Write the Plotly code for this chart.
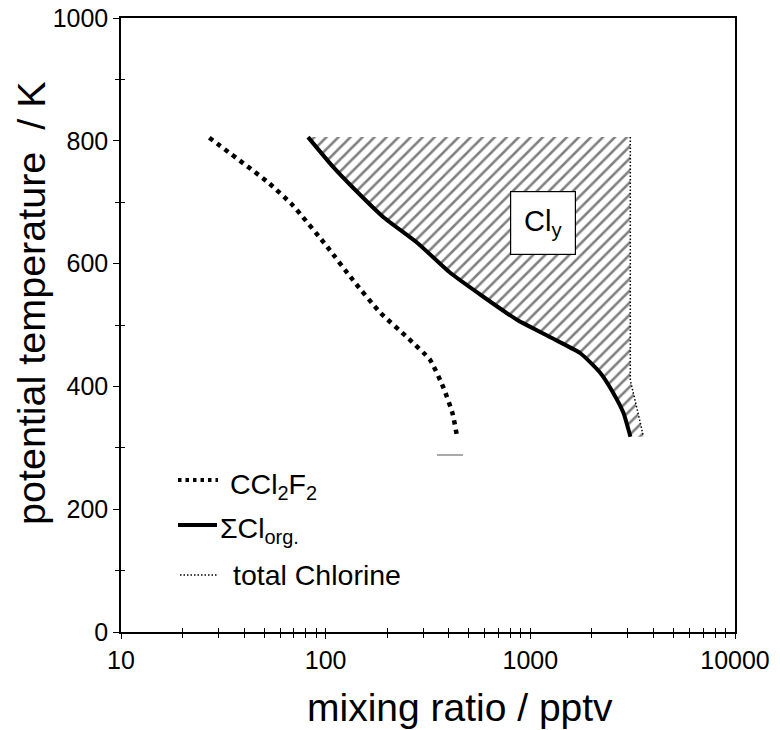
import plotly.graph_objects as go

# ---- data ----
ccl2f2_x = [27, 52, 69, 102, 136, 185, 250, 324, 375, 416, 440]
ccl2f2_t = [805, 733, 695, 627, 573, 520, 480, 443, 399, 357, 316]

clorg_x = [82, 109, 132, 191, 280, 406, 589, 864, 1253, 1756, 2199, 2546, 2850, 3083]
clorg_t = [806, 757, 728, 676, 634, 585, 546, 508, 480, 454, 422, 389, 357, 318]

cltot_x = [3080, 3080, 3336, 3570]
cltot_t = [806, 410, 361, 318]

x_tickvals = [10, 100, 1000, 10000]
x_ticktext = ["10", "100", "1000", "10000"]
x_minor = [m * d for d in (10, 100, 1000) for m in range(2, 10)]
y_tickvals = [0, 200, 400, 600, 800, 1000]
y_minor = [100, 300, 500, 700, 900]

FONT = "Liberation Sans, Arial, Helvetica, sans-serif"

fig = go.Figure()

# organic chlorine (solid)
fig.add_trace(go.Scatter(
    x=clorg_x, y=clorg_t, mode="lines",
    line=dict(color="black", width=4, shape="spline", smoothing=0.5),
    showlegend=False))
# total chlorine (thin dotted) with hatched Cl_y area to the organic curve
fig.add_trace(go.Scatter(
    x=cltot_x, y=cltot_t, mode="lines", fill="tonextx",
    fillcolor="white",
    fillpattern=dict(shape="/", size=8.5, solidity=0.3, fgcolor="black", bgcolor="white"),
    line=dict(color="black", width=1.5, dash="1.5px,2px"),
    showlegend=False))
# CCl2F2 (dotted)
fig.add_trace(go.Scatter(
    x=ccl2f2_x, y=ccl2f2_t, mode="lines",
    line=dict(color="black", width=4.5, dash="4.5px,5px", shape="spline", smoothing=0.5),
    showlegend=False))

axis_common = dict(showgrid=False, zeroline=False, linecolor="black", linewidth=1.5,
                   tickcolor="black", automargin=False, ticklabeloverflow="allow",
                   tickfont=dict(family=FONT, size=25, color="black"))

fig.update_layout(
    width=780, height=730,
    margin=dict(l=121, r=45, t=18, b=98),
    paper_bgcolor="white", plot_bgcolor="white",
    xaxis=dict(type="log", range=[1, 4], tickvals=x_tickvals, ticktext=x_ticktext,
               ticks="outside", ticklen=5, tickwidth=1.3, mirror=True,
               minor=dict(tickvals=x_minor, ticks="outside", ticklen=4, tickwidth=1.2,
                          tickcolor="black", showgrid=False),
               **axis_common),
    yaxis=dict(range=[0, 1000], tickvals=y_tickvals, ticks="outside", ticklen=6,
               tickwidth=1.3, mirror=True,
               minor=dict(tickvals=y_minor, ticks="outside", ticklen=4, tickwidth=1.2,
                          tickcolor="black", showgrid=False),
               **axis_common),
    xaxis2=dict(type="log", range=[1, 4], overlaying="x", anchor="y", side="bottom",
                tickvals=x_tickvals + x_minor, ticks="inside", ticklen=4, tickwidth=1.2,
                tickcolor="black", showticklabels=False, showgrid=False, zeroline=False,
                showline=False, automargin=False),
    yaxis2=dict(range=[0, 1000], overlaying="y", anchor="x", side="left",
                tickvals=y_minor, ticks="inside", ticklen=4, tickwidth=1.2,
                tickcolor="black", showticklabels=False, showgrid=False, zeroline=False,
                showline=False, automargin=False),
    showlegend=False,
)

# invisible traces so overlay axes are drawn
fig.add_trace(go.Scatter(x=[10], y=[None], xaxis="x2", yaxis="y", showlegend=False, hoverinfo="skip"))
fig.add_trace(go.Scatter(x=[10], y=[None], xaxis="x", yaxis="y2", showlegend=False, hoverinfo="skip"))

def px2paper_x(px):
    return (px - 121) / 614.0

def px2paper_y(py):
    return (632 - py) / 614.0

annotations = []
# axis titles
annotations.append(dict(text="mixing ratio / pptv", xref="paper", yref="paper",
                        x=px2paper_x(460), y=px2paper_y(707), xanchor="center", yanchor="middle",
                        showarrow=False, font=dict(family=FONT, size=39, color="black")))
annotations.append(dict(text="potential temperature  / K", xref="paper", yref="paper",
                        x=px2paper_x(31), y=px2paper_y(303), xanchor="center", yanchor="middle",
                        textangle=-90, showarrow=False,
                        font=dict(family=FONT, size=39.5, color="black")))
# Cl_y label box
annotations.append(dict(text="Cl<sub>y</sub>", xref="paper", yref="paper",
                        x=px2paper_x(542.5), y=px2paper_y(223), xanchor="center", yanchor="middle",
                        showarrow=False, bgcolor="white", bordercolor="black", borderwidth=1.2,
                        width=62, height=60, borderpad=1,
                        font=dict(family=FONT, size=29, color="black")))
# legend texts
leg = [("CCl<sub>2</sub>F<sub>2</sub>", 228, 486),
       ("ΣCl<sub>org.</sub>", 218, 530),
       ("total Chlorine", 231, 575)]
for txt, lx, ly in leg:
    annotations.append(dict(text=txt, xref="paper", yref="paper", x=px2paper_x(lx),
                            y=px2paper_y(ly), xanchor="left", yanchor="middle", showarrow=False,
                            font=dict(family=FONT, size=28.5, color="black")))
fig.update_layout(annotations=annotations)

shapes = [
    dict(type="line", xref="paper", yref="paper", x0=px2paper_x(178), x1=px2paper_x(218),
         y0=px2paper_y(480), y1=px2paper_y(480), line=dict(color="black", width=4, dash="3.5px,4px")),
    dict(type="line", xref="paper", yref="paper", x0=px2paper_x(178), x1=px2paper_x(217),
         y0=px2paper_y(525), y1=px2paper_y(525), line=dict(color="black", width=4)),
    dict(type="line", xref="paper", yref="paper", x0=px2paper_x(180), x1=px2paper_x(217),
         y0=px2paper_y(575), y1=px2paper_y(575), line=dict(color="black", width=1.3, dash="1.5px,2px")),
    dict(type="line", xref="paper", yref="paper", x0=px2paper_x(437), x1=px2paper_x(463),
         y0=px2paper_y(455), y1=px2paper_y(455), line=dict(color="#555555", width=1)),
]
fig.update_layout(shapes=shapes)

fig.write_html("out.html", config={"displayModeBar": False},
               post_script="document.body.style.margin='0px';document.body.style.padding='0px';")
